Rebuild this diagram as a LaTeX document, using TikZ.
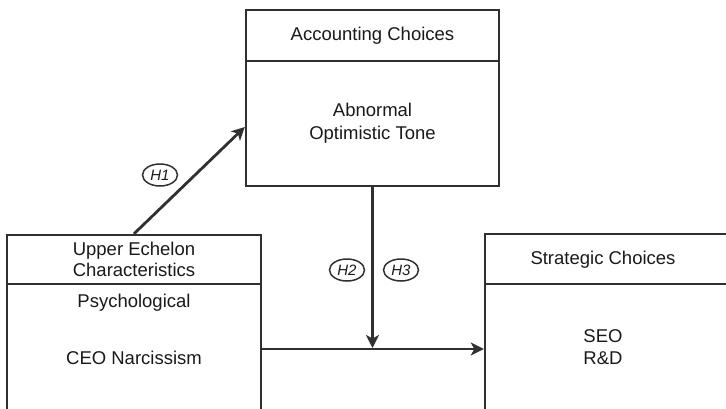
\documentclass[tikz,border=0pt]{standalone}
\usepackage{fontspec}
\setmainfont{Liberation Sans}
\usetikzlibrary{arrows.meta,shapes.geometric,calc}
\definecolor{linecol}{HTML}{303030}
\definecolor{textcol}{HTML}{1A1A1A}
\begin{document}
\begin{tikzpicture}[x=1pt,y=-1pt,
  box/.style={draw=linecol,line width=2.4pt,rectangle,inner sep=0pt,text=textcol,align=center,
    font=\fontsize{18.5pt}{21.5pt}\selectfont},
  lbl/.style={text=textcol,align=center,inner sep=0pt,font=\fontsize{18.5pt}{22pt}\selectfont},
  hyp/.style={draw=linecol,line width=1.5pt,ellipse,minimum width=35pt,minimum height=22pt,inner sep=0pt,
    text=textcol,font=\fontsize{15pt}{15pt}\selectfont\itshape},
  arr/.style={draw=linecol,line width=2.8pt,-{Stealth[length=13pt,width=13pt,inset=3.5pt]}}
]
\fill[white] (0,0) rectangle (726,408);
\useasboundingbox (0,0) rectangle (726,408);
\clip (0,0) rectangle (726,408);
% Accounting choices
\node[box,minimum width=253pt,minimum height=51pt] (acchead) at (372.5,35.5) {Accounting Choices};
\node[box,minimum width=253pt,minimum height=125pt,font=\fontsize{18.5pt}{23pt}\selectfont] (accbody) at (372.5,123.5) {Abnormal\\Optimistic Tone};
% Upper echelon
\node[box,minimum width=254pt,minimum height=49pt] (uehead) at (134,259.5) {Upper Echelon\\Characteristics};
\node[box,minimum width=254pt,minimum height=166pt] (uebody) at (134,367) {};
\node[lbl] (psy) at (134,303) {Psychological};
\node[lbl] (ceo) at (134,358) {CEO Narcissism};
% Strategic choices
\node[box,minimum width=275pt,minimum height=50pt] (schead) at (622.5,259) {};
\node[lbl] (sct) at (603,260) {Strategic Choices};
\node[box,minimum width=275pt,minimum height=166pt] (scbody) at (622.5,367) {};
\node[lbl] (sco) at (603,347) {SEO\\R\&D};
% connectors
\coordinate (h1end) at ($(accbody.west)+(0,3.5)$);
\coordinate (mstart) at (uebody.east |- 0,349);
\coordinate (mend) at (scbody.west |- 0,349);
\coordinate (meet) at (accbody.south |- 0,349);
\draw[arr] (uehead.north) -- (h1end);
\draw[arr] (mstart) -- (mend);
\draw[arr,shorten >=1pt] (accbody.south) -- (meet);
% hypotheses
\node[hyp] (h1) at (160,175) {H1};
\node[hyp] (h2) at (347,270) {H2};
\node[hyp] (h3) at (401,270) {H3};
\end{tikzpicture}
\end{document}
